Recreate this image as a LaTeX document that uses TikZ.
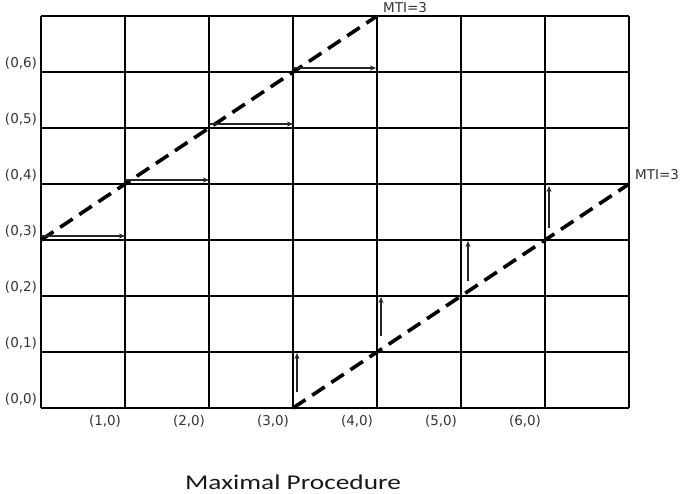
\documentclass[tikz,border=0pt]{standalone}
\usepackage{fontspec}
\setmainfont{DejaVu Sans}
\newfontfamily\titlefont{Carlito}
\usetikzlibrary{arrows.meta}
\tikzset{
  gridline/.style={line width=2.6pt, black},
  mtiline/.style={line width=3.6pt, black, dash pattern=on 15pt off 8pt},
  movearrow/.style={line width=1.1pt, black!85, -{Stealth[length=6pt,width=5pt]}},
  axislabel/.style={font=\fontsize{13.5}{15}\selectfont, text=black!80, inner sep=0pt},
  titlelabel/.style={font=\titlefont\fontsize{21}{24}\selectfont, text=black!90, inner sep=0pt}
}
\begin{document}
\begin{tikzpicture}[x=1pt,y=-1pt]
\useasboundingbox (0,0) rectangle (684,493);
% grid
\foreach \gx in {41,125,209,293,377,461,545,629}
  \draw[gridline] (\gx,16) -- (\gx,408);
\foreach \gy in {16,72,128,184,240,296,352,408}
  \draw[gridline] (41,\gy) -- (629,\gy);
% MTI lines
\coordinate (u0) at (41,240);
\coordinate (u1) at (377,16);
\coordinate (l0) at (293,408);
\coordinate (l1) at (629,184);
\draw[mtiline] (u0) -- (u1);
\draw[mtiline] (l0) -- (l1);
% horizontal arrows
\coordinate (ha1) at (41,236);  \coordinate (hb1) at (125,236);
\coordinate (ha2) at (125,180); \coordinate (hb2) at (209,180);
\coordinate (ha3) at (209,124); \coordinate (hb3) at (293,124);
\coordinate (ha4) at (293,68);  \coordinate (hb4) at (376,68);
\foreach \i in {1,2,3,4} \draw[movearrow] (ha\i) -- (hb\i);
% vertical arrows
\coordinate (va1) at (297,392); \coordinate (vb1) at (297,353);
\coordinate (va2) at (381,336); \coordinate (vb2) at (381,297);
\coordinate (va3) at (468,281); \coordinate (vb3) at (468,241);
\coordinate (va4) at (549,228); \coordinate (vb4) at (549,186);
\foreach \i in {1,2,3,4} \draw[movearrow] (va\i) -- (vb\i);
% left labels
\node[axislabel] (y0) at (21,399) {(0,0)};
\node[axislabel] (y1) at (21,343) {(0,1)};
\node[axislabel] (y2) at (21,287) {(0,2)};
\node[axislabel] (y3) at (21,231) {(0,3)};
\node[axislabel] (y4) at (21,175) {(0,4)};
\node[axislabel] (y5) at (21,119) {(0,5)};
\node[axislabel] (y6) at (21,63) {(0,6)};
% bottom labels
\node[axislabel] (x1) at (105,421) {(1,0)};
\node[axislabel] (x2) at (189,421) {(2,0)};
\node[axislabel] (x3) at (273,421) {(3,0)};
\node[axislabel] (x4) at (357,421) {(4,0)};
\node[axislabel] (x5) at (441,421) {(5,0)};
\node[axislabel] (x6) at (525,421) {(6,0)};
% MTI labels
\node[axislabel] (mtitop) at (405,8) {MTI=3};
\node[axislabel] (mtiright) at (657,175) {MTI=3};
% title
\node[titlelabel] (title) at (293,482) {\scalebox{1.3}[1]{Maximal Procedure}};
\end{tikzpicture}
\end{document}
